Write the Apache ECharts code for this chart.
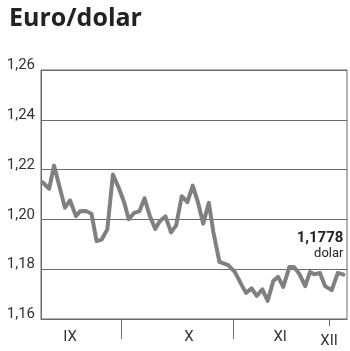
<!DOCTYPE html>
<html>
<head>
<meta charset="utf-8">
<script src="https://cdn.jsdelivr.net/npm/echarts@6/dist/echarts.min.js"></script>
<style>
html,body{margin:0;padding:0;background:#fff;}
#c{width:350px;height:351px;}
</style>
</head>
<body>
<div id="c"></div>
<script>
// trading-day position (x) and EUR/USD rate (y)
var days = [0.3, 1.6, 2.55, 4.7, 5.7, 6.85, 7.7, 8.8, 9.9, 10.9, 11.9, 13.0, 14.1, 15.2, 16.3, 17.2, 18.2, 19.3, 20.3, 21.3, 22.4, 23.3, 24.4, 25.5, 26.5, 27.6, 28.7, 29.75, 30.8, 31.8, 32.9, 33.8, 35.0, 36.7, 38.0, 39.35, 40.2, 41.3, 42.3, 43.4, 44.45, 45.55, 46.5, 47.5, 48.7, 49.6, 50.6, 51.8, 52.75, 53.6, 54.7, 55.7, 57.0, 58.2, 59.3];
var rates = [1.2149, 1.2123, 1.2216, 1.2047, 1.2076, 1.2013, 1.2033, 1.2034, 1.2023, 1.1913, 1.1919, 1.1960, 1.2180, 1.2129, 1.2069, 1.2001, 1.2025, 1.2033, 1.2085, 1.2016, 1.1962, 1.1993, 1.2012, 1.1948, 1.1976, 1.2093, 1.2069, 1.2136, 1.2067, 1.1983, 1.2067, 1.1949, 1.1829, 1.1816, 1.1789, 1.1736, 1.1705, 1.1723, 1.1693, 1.1719, 1.1673, 1.1753, 1.1769, 1.1729, 1.1809, 1.1809, 1.1783, 1.1732, 1.1789, 1.1780, 1.1785, 1.1732, 1.1716, 1.1785, 1.1778];
var monthBoundaries = [15.7, 37.65];
var monthLabels = ['IX', 'X', 'XI'];
var monthLabelPos = [5.7, 29.0, 46.9];
var lastMonthLabel = 'XII';
var lastMonthPos = 56.5;
var yTicks = [1.16, 1.18, 1.20, 1.22, 1.24, 1.26];
var lastValueText = '1,1778';
var unitText = 'dolar';

var FONT = 'Roboto';
var data = days.map(function (d, i) { return [d, rates[i]]; });
var last = data.length - 1;
data[last] = {
  value: data[last],
  symbol: 'circle',
  symbolSize: 0.1,
  label: {
    show: true,
    position: 'top',
    align: 'right',
    verticalAlign: 'bottom',
    distance: 13,
    offset: [0, 0],
    formatter: '{a|' + lastValueText + '}\n{b|' + unitText + '}',
    rich: {
      a: { fontFamily: FONT, fontWeight: 'bold', fontSize: 15, color: '#222', lineHeight: 17, align: 'right' },
      b: { fontFamily: FONT, fontSize: 13, color: '#222', lineHeight: 15, align: 'right' }
    }
  }
};

var chart = echarts.init(document.getElementById('c'), null, { renderer: 'canvas' });
chart.setOption({
  animation: false,
  backgroundColor: '#fff',
  title: {
    text: 'Euro/dolar',
    left: 4,
    top: 1,
    textStyle: { fontFamily: 'Open Sans', fontWeight: 'bold', fontSize: 25, color: '#222' }
  },
  grid: {
    left: 41, right: 3, top: 70, bottom: 32,
    show: true, borderColor: '#6a6a6a', borderWidth: 1, backgroundColor: 'transparent'
  },
  xAxis: [{
    type: 'value', min: 0, max: 60,
    axisLine: { show: true, lineStyle: { color: '#6a6a6a', width: 1 } },
    splitLine: { show: false },
    axisTick: { show: true, customValues: monthBoundaries, length: 20, lineStyle: { color: '#6a6a6a', width: 1 } },
    axisLabel: {
      show: true, customValues: monthLabelPos, margin: 11,
      fontFamily: FONT, fontSize: 15, color: '#333',
      formatter: function (v) {
        for (var i = 0; i < monthLabelPos.length; i++) {
          if (Math.abs(monthLabelPos[i] - v) < 0.01) return monthLabels[i];
        }
        return '';
      }
    }
  }, {
    type: 'value', min: 0, max: 60, position: 'bottom',
    axisLine: { show: false },
    splitLine: { show: false },
    axisTick: { show: true, customValues: [lastMonthPos], length: 7, lineStyle: { color: '#6a6a6a', width: 1 } },
    axisLabel: {
      show: true, customValues: [lastMonthPos], margin: 15,
      fontFamily: FONT, fontSize: 15, color: '#333',
      formatter: function () { return lastMonthLabel; }
    }
  }],
  yAxis: {
    type: 'value', min: yTicks[0], max: yTicks[yTicks.length - 1], interval: 0.02,
    axisLine: { show: true, lineStyle: { color: '#6a6a6a', width: 1 } },
    axisTick: { show: false },
    splitLine: { show: true, lineStyle: { color: '#6a6a6a', width: 1 } },
    axisLabel: {
      margin: 6, fontFamily: FONT, fontSize: 15, color: '#333', verticalAlign: 'bottom', padding: [0, 0, -3, 0],
      formatter: function (v) { return v.toFixed(2).replace('.', ','); }
    }
  },
  series: [{
    type: 'line',
    data: data,
    symbol: 'none',
    showSymbol: true,
    lineStyle: { color: '#808080', width: 4, cap: 'round', join: 'round' },
    itemStyle: { color: '#808080' },
    silent: true
  }]
});
</script>
</body>
</html>
